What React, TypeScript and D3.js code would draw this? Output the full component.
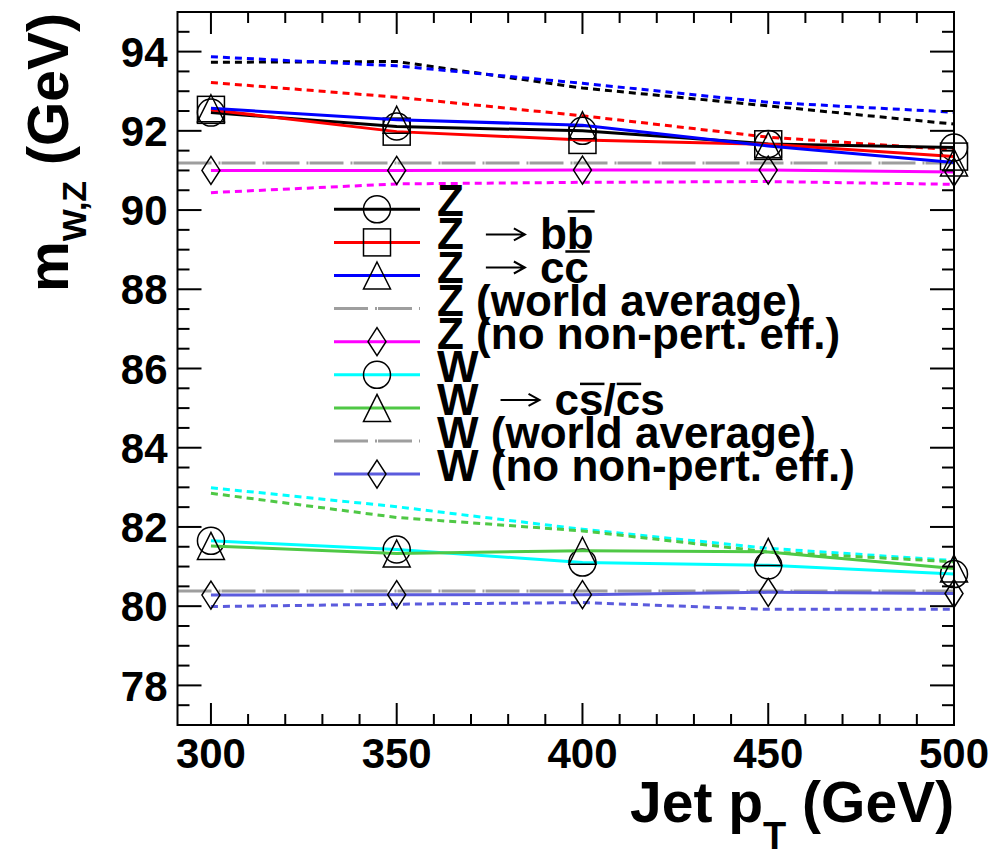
import React from 'react';
import * as d3 from 'd3';

// ---------- data ----------
const ptBins = [300, 350, 400, 450, 500];

const zMass = [92.46, 92.11, 92.0, 91.67, 91.58];
const zBBMass = [92.53, 91.98, 91.77, 91.66, 91.35];
const zCCMass = [92.57, 92.28, 92.14, 91.62, 91.2];
const zNoNPMass = [91.0, 91.0, 91.01, 91.01, 90.96];

const zMassAlt = [93.73, 93.75, 93.08, 92.63, 92.17];
const zBBMassAlt = [93.22, 92.85, 92.38, 91.84, 91.52];
const zCCMassAlt = [93.87, 93.64, 93.2, 92.72, 92.47];
const zNoNPMassAlt = [90.44, 90.66, 90.7, 90.72, 90.65];

const wMass = [81.65, 81.43, 81.1, 81.03, 80.81];
const wCSMass = [81.52, 81.33, 81.4, 81.37, 80.95];
const wNoNPMass = [80.28, 80.29, 80.29, 80.35, 80.32];

const wMassAlt = [82.99, 82.51, 81.94, 81.46, 81.15];
const wCSMassAlt = [82.85, 82.24, 81.9, 81.37, 81.12];
const wNoNPMassAlt = [79.99, 80.05, 80.09, 79.92, 79.92];

const zWorldAverage = 91.1876;
const wWorldAverage = 80.385;

const yMajorTicks = [78, 80, 82, 84, 86, 88, 90, 92, 94];
const xMajorTicks = [300, 350, 400, 450, 500];

// ---------- style ----------
const FONT = "'Liberation Sans', Arial, Helvetica, sans-serif";
const C_BLACK = '#000000';
const C_RED = '#ff0000';
const C_BLUE = '#0000ff';
const C_MAGENTA = '#ff00ff';
const C_CYAN = '#00ffff';
const C_GREEN = '#4fc845';
const C_VIOLET = '#5b5bdd';
const C_GRAY = '#9e9e9e';
const DOTTED = '7,5';
const WORLD_DASH = '34,7,2,1';

type MarkerKind = 'circle' | 'square' | 'triangle' | 'diamond' | null;

const solidSeries: { values: number[]; color: string; marker: MarkerKind }[] = [
  { values: zMass, color: C_BLACK, marker: 'circle' },
  { values: zBBMass, color: C_RED, marker: 'square' },
  { values: zCCMass, color: C_BLUE, marker: 'triangle' },
  { values: zNoNPMass, color: C_MAGENTA, marker: 'diamond' },
  { values: wMass, color: C_CYAN, marker: 'circle' },
  { values: wCSMass, color: C_GREEN, marker: 'triangle' },
  { values: wNoNPMass, color: C_VIOLET, marker: 'diamond' },
];

const dottedSeries: { values: number[]; color: string }[] = [
  { values: zMassAlt, color: C_BLACK },
  { values: zBBMassAlt, color: C_RED },
  { values: zCCMassAlt, color: C_BLUE },
  { values: zNoNPMassAlt, color: C_MAGENTA },
  { values: wMassAlt, color: C_CYAN },
  { values: wCSMassAlt, color: C_GREEN },
  { values: wNoNPMassAlt, color: C_VIOLET },
];

type Decay = [string, boolean][];
const legendEntries: {
  head: string;
  rest?: string;
  decay?: Decay;
  color: string;
  marker: MarkerKind;
  dash?: string;
}[] = [
  { head: 'Z', color: C_BLACK, marker: 'circle' },
  { head: 'Z', decay: [['b', false], ['b', true]], color: C_RED, marker: 'square' },
  { head: 'Z', decay: [['c', false], ['c', true]], color: C_BLUE, marker: 'triangle' },
  { head: 'Z', rest: ' (world average)', color: C_GRAY, marker: null, dash: WORLD_DASH },
  { head: 'Z', rest: ' (no non-pert. eff.)', color: C_MAGENTA, marker: 'diamond' },
  { head: 'W', color: C_CYAN, marker: 'circle' },
  { head: 'W', decay: [['c', false], ['s', true], ['/', false], ['c', true], ['s', false]], color: C_GREEN, marker: 'triangle' },
  { head: 'W', rest: ' (world average)', color: C_GRAY, marker: null, dash: WORLD_DASH },
  { head: 'W', rest: ' (no non-pert. eff.)', color: C_VIOLET, marker: 'diamond' },
];

// Liberation Sans Bold advance widths (per 1000 em)
const ADV: Record<string, number> = { b: 611, c: 556, s: 556, '/': 278, Z: 611, W: 944 };

function Marker({ kind, cx, cy }: { kind: MarkerKind; cx: number; cy: number }) {
  const common = { fill: 'none', stroke: '#000', strokeWidth: 1.5 };
  if (kind === 'circle') return <circle cx={cx} cy={cy} r={13.5} {...common} />;
  if (kind === 'square') return <rect x={cx - 13.5} y={cy - 13.5} width={27} height={27} {...common} />;
  if (kind === 'triangle')
    return <path d={`M${cx},${cy - 13.5}L${cx + 13.5},${cy + 13.5}L${cx - 13.5},${cy + 13.5}Z`} {...common} />;
  if (kind === 'diamond')
    return <path d={`M${cx},${cy - 14}L${cx + 9},${cy}L${cx},${cy + 14}L${cx - 9},${cy}Z`} {...common} />;
  return null;
}

export default function App() {
  const W = 1006;
  const H = 854;
  const left = 177.5;
  const right = 954;
  const top = 12;
  const bottom = 725;

  const x = d3.scaleLinear().domain([291, 500]).range([left, right]);
  const y = d3.scaleLinear().domain([77, 95]).range([bottom, top]);

  const line = d3
    .line<number>()
    .x((_, i) => x(ptBins[i]))
    .y((d) => y(d));

  const yMinor = d3.range(77, 95.0001, 0.5).filter((v) => !yMajorTicks.includes(v));
  const xMinor = d3.range(300, 500.001, 10).filter((v) => !xMajorTicks.includes(v));

  const legFs = 44;
  const legY0 = 209.3;
  const legDY = 33.1;

  return (
    <div style={{ position: 'absolute', left: 0, top: 0 }}>
      <svg width={W} height={H} style={{ display: 'block', background: '#fff' }} fontFamily={FONT}>
        <rect x={0} y={0} width={W} height={H} fill="#fff" />

        {/* world averages */}
        {[zWorldAverage, wWorldAverage].map((v, i) => (
          <line key={'wa' + i} x1={left} x2={right} y1={y(v)} y2={y(v)} stroke={C_GRAY} strokeWidth={3} strokeDasharray={WORLD_DASH} />
        ))}

        {/* dotted curves */}
        {dottedSeries.map((s, i) => (
          <path key={'d' + i} d={line(s.values) || ''} fill="none" stroke={s.color} strokeWidth={3} strokeDasharray={DOTTED} />
        ))}

        {/* solid curves with markers */}
        {solidSeries.map((s, i) => (
          <g key={'s' + i}>
            <path d={line(s.values) || ''} fill="none" stroke={s.color} strokeWidth={3} />
            {s.values.map((v, j) => (
              <Marker key={j} kind={s.marker} cx={x(ptBins[j])} cy={y(v)} />
            ))}
          </g>
        ))}

        {/* frame */}
        <rect x={left} y={top} width={right - left} height={bottom - top} fill="none" stroke="#000" strokeWidth={2} />

        {/* y ticks */}
        {yMajorTicks.map((v) => (
          <g key={'ym' + v}>
            <line x1={left} x2={left + 24} y1={y(v)} y2={y(v)} stroke="#000" strokeWidth={2} />
            <line x1={right} x2={right - 24} y1={y(v)} y2={y(v)} stroke="#000" strokeWidth={2} />
            <text x={left - 10} y={y(v)} dy="0.36em" textAnchor="end" fontSize={42} fontWeight="bold">
              {v}
            </text>
          </g>
        ))}
        {yMinor.map((v) => (
          <g key={'yn' + v}>
            <line x1={left} x2={left + 12} y1={y(v)} y2={y(v)} stroke="#000" strokeWidth={2} />
            <line x1={right} x2={right - 12} y1={y(v)} y2={y(v)} stroke="#000" strokeWidth={2} />
          </g>
        ))}

        {/* x ticks */}
        {xMajorTicks.map((v) => (
          <g key={'xm' + v}>
            <line x1={x(v)} x2={x(v)} y1={bottom} y2={bottom - 22} stroke="#000" strokeWidth={2} />
            <line x1={x(v)} x2={x(v)} y1={top} y2={top + 22} stroke="#000" strokeWidth={2} />
            <text x={x(v)} y={bottom + 43} textAnchor="middle" fontSize={42} fontWeight="bold">
              {v}
            </text>
          </g>
        ))}
        {xMinor.map((v) => (
          <g key={'xn' + v}>
            <line x1={x(v)} x2={x(v)} y1={bottom} y2={bottom - 11} stroke="#000" strokeWidth={2} />
            <line x1={x(v)} x2={x(v)} y1={top} y2={top + 11} stroke="#000" strokeWidth={2} />
          </g>
        ))}

        {/* axis titles */}
        <text x={630} y={822} fontSize={57} fontWeight="bold">
          Jet p
          <tspan fontSize={38} dy={27}>T</tspan>
          <tspan fontSize={57} dy={-27}> (GeV)</tspan>
        </text>
        <text transform="translate(68,292) rotate(-90)" fontSize={57} fontWeight="bold">
          m
          <tspan fontSize={34} dy={18}>W,Z</tspan>
          <tspan fontSize={57} dy={-18}> (GeV)</tspan>
        </text>

        {/* legend */}
        {legendEntries.map((e, i) => {
          const ly = legY0 + i * legDY;
          const base = ly + 7;
          const tx = 437;
          const parts: React.ReactNode[] = [];
          if (e.decay) {
            const headW = (ADV[e.head] * legFs) / 1000;
            const ax1 = tx + headW + 22;
            const ax2 = ax1 + 39;
            const ay = base - 15;
            parts.push(
              <path
                key="arrow"
                d={`M${ax1},${ay}L${ax2},${ay}M${ax2 - 11},${ay - 6}L${ax2},${ay}L${ax2 - 11},${ay + 6}`}
                fill="none"
                stroke="#000"
                strokeWidth={2}
              />
            );
            let cx = ax2 + 15;
            e.decay.forEach(([ch, bar], k) => {
              const w = (ADV[ch] * legFs) / 1000;
              parts.push(
                <text key={'c' + k} x={cx} y={base} fontSize={legFs} fontWeight="bold">
                  {ch}
                </text>
              );
              if (bar) {
                const oy = base - (ch === 'b' ? 38 : 31);
                parts.push(<line key={'o' + k} x1={cx + 1} x2={cx + w + 1} y1={oy} y2={oy} stroke="#000" strokeWidth={2.5} />);
              }
              cx += w;
            });
          }
          return (
            <g key={'leg' + i}>
              <line x1={334} x2={420} y1={ly} y2={ly} stroke={e.color} strokeWidth={3} strokeDasharray={e.dash} />
              <Marker kind={e.marker} cx={377} cy={ly} />
              <text x={tx} y={base} fontSize={legFs} fontWeight="bold" style={{ whiteSpace: 'pre' }}>
                {e.head + (e.rest || '')}
              </text>
              {parts}
            </g>
          );
        })}
      </svg>
    </div>
  );
}
